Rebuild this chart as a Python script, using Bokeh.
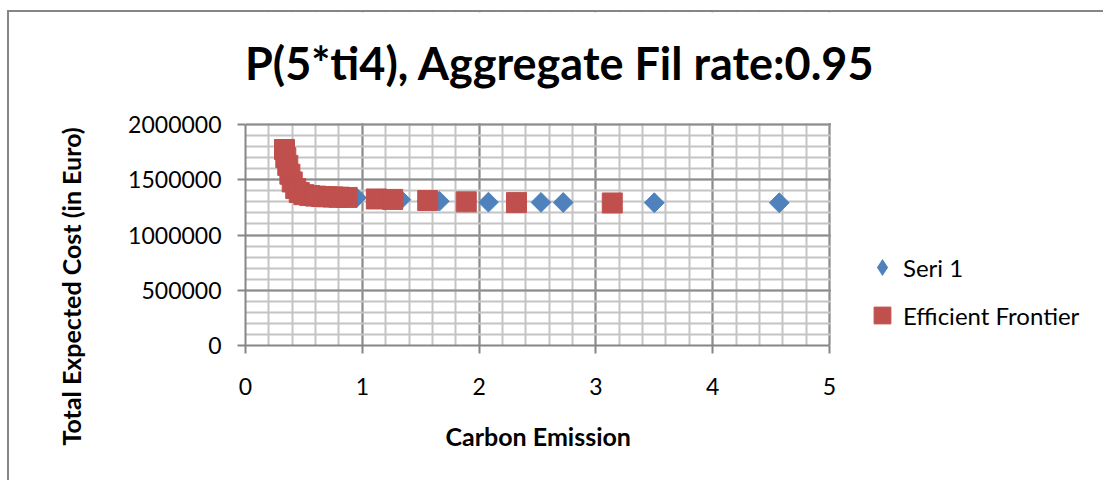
import numpy as np
from bokeh.plotting import figure
from bokeh.models import (Range1d, SingleIntervalTicker, NumeralTickFormatter, Title, Label,
                          Legend, LegendItem, ColumnDataSource, BoxAnnotation)
from bokeh.embed import file_html
from bokeh.resources import INLINE

# ---------------- data ----------------
title_text = "P(5*ti4), Aggregate Fil rate:0.95"
x_title = "Carbon Emission"
y_title = "Total Expected Cost (in Euro)"
legend_labels = ["Seri 1", "Efficient Frontier"]

frontier_x = [0.334, 0.345, 0.362, 0.38, 0.40, 0.43, 0.46, 0.50, 0.55, 0.60, 0.65,
              0.70, 0.75, 0.80, 0.87, 1.12, 1.26, 1.56, 1.89, 2.32, 3.14]
frontier_y = [1774000, 1700000, 1630000, 1550000, 1480000, 1420000, 1385000, 1365000,
              1357000, 1352000, 1348000, 1346000, 1344000, 1342000, 1340000, 1326000,
              1322000, 1312000, 1300000, 1293000, 1290000]

seri_x = frontier_x + [0.95, 1.33, 1.66, 2.08, 2.53, 2.72, 3.50, 4.57]
seri_y = frontier_y + [1337000, 1320000, 1306000, 1297000, 1295000, 1294000, 1292000, 1292000]

x_min, x_max = 0, 5
y_min, y_max = 0, 2000000
x_ticks_interval = 1
y_ticks_interval = 500000

BLUE = "#4F81BD"
RED = "#C0504D"
FONT = "Lato"

# page-level offset of the chart area (its left/top border lines)
OX, OY = 9, 12
W, H = 1105 - OX, 482 - OY
# wanted plot window (canvas pixels)
FL, FR, FT, FB = 245 - OX, 829 - OX, 124 - OY, 345 - OY
# the frame is extended to the right and top edges so that the legend and the
# chart title can live inside it; grids/axes are bounded to the real window
x_end = x_max * (W - FL) / (FR - FL)
y_end = y_max * FB / (FB - FT)
eps_x = 1.5 * x_max / (FR - FL)
eps_y = 1.5 * y_max / (FB - FT)

p = figure(width=W, height=H, output_backend="svg", toolbar_location=None,
           x_range=Range1d(x_min, x_end), y_range=Range1d(y_min, y_end),
           min_border_left=FL, min_border_right=0,
           min_border_top=0, min_border_bottom=H - FB)
p.title = None
p.styles = {"margin-left": "7px", "margin-top": "10px",
            "border-left": "2px solid #868686", "border-top": "2px solid #868686"}
p.outline_line_color = None
p.background_fill_color = "white"
p.border_fill_color = "white"

# axes
for ax in (p.xaxis[0], p.yaxis[0]):
    ax.axis_line_color = "#868686"
    ax.axis_line_width = 2
    ax.major_tick_line_color = "#868686"
    ax.major_tick_line_width = 2
    ax.major_tick_in = 0
    ax.major_tick_out = 8
    ax.minor_tick_line_color = None
    ax.major_label_text_font = FONT
    ax.major_label_text_font_size = "23px"
    ax.major_label_text_color = "black"

p.xaxis.ticker = SingleIntervalTicker(interval=x_ticks_interval, num_minor_ticks=5)
p.yaxis.ticker = SingleIntervalTicker(interval=y_ticks_interval, num_minor_ticks=5)
p.xaxis.bounds = (x_min, x_max)
p.yaxis.bounds = (y_min, y_max)
p.yaxis.formatter = NumeralTickFormatter(format="0")
p.xaxis.formatter = NumeralTickFormatter(format="0")
p.xaxis.major_label_standoff = 24
p.yaxis.major_label_standoff = 16

# grids
for g in (p.xgrid[0], p.ygrid[0]):
    g.grid_line_color = "#8C8C8C"
    g.grid_line_width = 2
    g.minor_grid_line_color = "#C4C4C4"
    g.minor_grid_line_width = 2
p.xgrid.bounds = (x_min, x_max)
p.ygrid.bounds = (y_min, y_max)

# blank out the extended parts of the frame (right of x_max, above y_max)
p.add_layout(BoxAnnotation(left=x_max + eps_x, fill_color="white", fill_alpha=1,
                           line_color=None))
p.add_layout(BoxAnnotation(bottom=y_max + eps_y, fill_color="white", fill_alpha=1,
                           line_color=None))

# data
src_s = ColumnDataSource(dict(x=seri_x, y=seri_y))
src_f = ColumnDataSource(dict(x=frontier_x, y=frontier_y))
r_s = p.scatter("x", "y", source=src_s, marker="square", angle=np.pi / 4, size=14,
                fill_color=BLUE, line_color=BLUE)
r_f = p.scatter("x", "y", source=src_f, marker="square", size=20,
                fill_color=RED, line_color=RED)
# legend symbol for the diamond series (legend glyphs are drawn unrotated);
# size 0 so it adds nothing to the plot itself
r_s_leg = p.scatter("x", "y", source=src_s, marker="diamond", size=0,
                    fill_color=BLUE, line_color=None)

# chart title (inside the extended frame)
p.add_layout(Label(x=559.5 - (FL + OX), y=FB - (62 - OY), x_units="screen",
                   y_units="screen", text=title_text, text_font=FONT,
                   text_font_size="45px", text_font_style="bold", text_align="center",
                   text_baseline="alphabetic", text_color="black"))

# axis titles
p.add_layout(Title(text=y_title, align="left", offset=-100, standoff=80,
                   text_font=FONT, text_font_size="25px", text_font_style="bold",
                   text_color="black"), "left")
p.add_layout(Title(text=x_title, align="left", offset=200, standoff=42,
                   text_font=FONT, text_font_size="25px", text_font_style="bold",
                   text_color="black"), "below")

# legend
leg = Legend(items=[LegendItem(label=legend_labels[0], renderers=[r_s_leg]),
                    LegendItem(label=legend_labels[1], renderers=[r_f])],
             location=(616, 9), orientation="vertical",
             glyph_width=42, glyph_height=42, spacing=6, label_standoff=0,
             padding=0, margin=0, border_line_color=None, background_fill_alpha=0,
             label_text_font=FONT, label_text_font_size="24px", label_text_color="black")
p.add_layout(leg)

open("out.html", "w").write(file_html(p, INLINE))
